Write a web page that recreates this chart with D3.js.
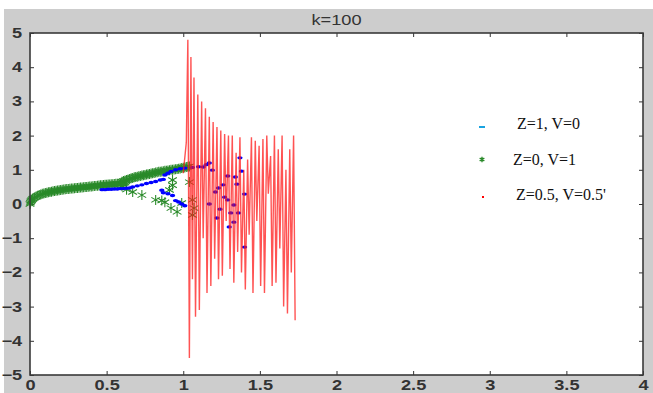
<!DOCTYPE html>
<html>
<head>
<meta charset="utf-8">
<script src="https://cdn.jsdelivr.net/npm/d3@7"></script>
<style>
	body { margin: 0; background: #fff; }
</style>
</head>
<body>
<div id="chart"></div>
<script>
const title = "k=100";
const xTicks = [0, 0.5, 1, 1.5, 2, 2.5, 3, 3.5, 4];
const yTicks = [-5, -4, -3, -2, -1, 0, 1, 2, 3, 4, 5];
const seriesNames = ["Z=1, V=0", "Z=0, V=1", "Z=0.5, V=0.5'"];

// Z=0, V=1 : green stars, lower branch
const greenCurve = [
	[0, 0], [0.003, 0.04], [0.006, 0.08], [0.01, 0.11], [0.015, 0.14], [0.02, 0.16], [0.03, 0.19],
	[0.04, 0.22], [0.05, 0.24], [0.06, 0.26], [0.07, 0.28], [0.08, 0.3], [0.09, 0.31], [0.1, 0.32],
	[0.11, 0.33], [0.12, 0.34], [0.13, 0.35], [0.14, 0.36], [0.15, 0.37], [0.16, 0.38], [0.17, 0.39],
	[0.18, 0.395], [0.19, 0.4], [0.2, 0.41], [0.21, 0.42], [0.22, 0.425], [0.23, 0.43], [0.24, 0.435],
	[0.25, 0.44], [0.26, 0.445], [0.27, 0.45], [0.28, 0.455], [0.29, 0.46], [0.3, 0.465], [0.31, 0.47],
	[0.32, 0.475], [0.33, 0.48], [0.34, 0.485], [0.35, 0.49], [0.36, 0.495], [0.37, 0.5], [0.38, 0.505],
	[0.39, 0.51], [0.4, 0.515], [0.41, 0.52], [0.42, 0.525], [0.43, 0.53], [0.44, 0.535], [0.45, 0.54],
	[0.46, 0.545], [0.47, 0.55], [0.48, 0.555], [0.49, 0.56], [0.5, 0.565], [0.51, 0.57], [0.52, 0.57],
	[0.53, 0.575], [0.54, 0.58], [0.55, 0.585], [0.56, 0.59], [0.57, 0.59], [0.58, 0.595], [0.59, 0.6],
	[0.6, 0.6], [0.61, 0.61], [0.62, 0.62]
];
// Z=0, V=1 : green stars, upper branch
const greenUpper = [
	[0.6, 0.65], [0.61, 0.67], [0.62, 0.69], [0.63, 0.7], [0.64, 0.72], [0.65, 0.73], [0.66, 0.75],
	[0.67, 0.76], [0.68, 0.78], [0.69, 0.79], [0.7, 0.8], [0.71, 0.81], [0.72, 0.82], [0.73, 0.83],
	[0.74, 0.84], [0.75, 0.85], [0.76, 0.86], [0.77, 0.87], [0.78, 0.88], [0.79, 0.89], [0.8, 0.9],
	[0.81, 0.91], [0.82, 0.92], [0.83, 0.93], [0.84, 0.94], [0.85, 0.945], [0.86, 0.95], [0.87, 0.96],
	[0.88, 0.97], [0.89, 0.975], [0.9, 0.98], [0.91, 0.99], [0.92, 1.0], [0.93, 1.005], [0.94, 1.01],
	[0.95, 1.015], [0.96, 1.02], [0.97, 1.03], [0.98, 1.04], [0.99, 1.05], [1.0, 1.06], [1.01, 1.07],
	[1.02, 1.08], [1.03, 1.09], [1.04, 1.1]
];
// Z=0, V=1 : green stars, scattered
const greenScatter = [
	[0.6, 0.52], [0.63, 0.42], [0.67, 0.35], [0.73, 0.26], [0.82, 0.12], [0.86, 0.1], [0.88, 0.05],
	[0.91, 0.41], [0.93, 0.7], [0.93, 0.55], [0.92, -0.12], [0.96, -0.23], [0.99, 0.03], [1.04, 0.64],
	[1.06, 0.12], [1.06, -0.32], [1.07, -0.12]
];
// Z=1, V=0 : blue dots
const blueDots = [
	[0.47, 0.42], [0.49, 0.42], [0.51, 0.43], [0.53, 0.43], [0.55, 0.44], [0.57, 0.44], [0.59, 0.45],
	[0.61, 0.45], [0.63, 0.46], [0.65, 0.47], [0.67, 0.5], [0.7, 0.53], [0.73, 0.56], [0.76, 0.6],
	[0.79, 0.63], [0.82, 0.66], [0.85, 0.7], [0.87, 0.72], [0.88, 0.85], [0.9, 0.9], [0.92, 0.95],
	[0.95, 1.0], [0.98, 1.03], [1.01, 1.05], [1.06, 1.07], [1.1, 1.09], [1.13, 1.08], [1.15, 1.15],
	[1.17, 1.2], [0.86, 0.4], [0.87, 0.33], [0.9, 0.3], [0.93, 0.25], [0.95, 0.1], [0.97, 0.06],
	[0.99, 0.0], [1.01, -0.05], [1.19, 0.99], [1.21, 0.35], [1.17, 0.0], [1.23, 0.47], [1.26, 0.56],
	[1.24, -0.15], [1.27, 0.2], [1.29, 0.12], [1.29, 0.82], [1.33, -0.03], [1.22, -0.41], [1.31, -0.26],
	[1.3, -0.67], [1.33, -0.53], [1.34, 0.79], [1.35, 0.58], [1.36, -0.26], [1.37, 1.35], [1.38, 0.96],
	[1.4, 0.29], [1.4, -1.26]
];
// Z=0.5, V=0.5 : red line
const redLine = [
	[1.0, 0.9], [1.02, 1.8], [1.03, 4.8], [1.04, -4.5], [1.05, 4.3], [1.06, -2.2], [1.07, 3.7],
	[1.08, -3.3], [1.095, 3.2], [1.105, -3.1], [1.12, 3.0], [1.13, -1.0], [1.145, 2.8], [1.155, -2.6],
	[1.17, 2.55], [1.18, -2.4], [1.195, 2.4], [1.205, -1.6], [1.22, 2.25], [1.23, -2.2], [1.245, 2.15],
	[1.255, -2.1], [1.27, 2.05], [1.28, -0.5], [1.295, 2.0], [1.305, -1.9], [1.32, 2.0], [1.33, -2.3],
	[1.345, 1.5], [1.355, -1.4], [1.37, 1.95], [1.38, -2.0], [1.395, 1.0], [1.405, -2.5], [1.42, 1.3],
	[1.43, -0.9], [1.445, 1.95], [1.455, -2.6], [1.47, 1.85], [1.48, -0.5], [1.495, 1.7], [1.505, -2.4],
	[1.52, 1.9], [1.53, -2.6], [1.545, 2.0], [1.555, 0.3], [1.57, 1.4], [1.58, -2.4], [1.595, 2.0],
	[1.605, -2.3], [1.62, 1.6], [1.63, -1.3], [1.645, 2.0], [1.655, -3.0], [1.67, 1.0], [1.68, -3.2],
	[1.695, 1.6], [1.705, -2.0], [1.72, 2.0], [1.73, -3.4]
];

const W = 653;
const H = 393;
const margin = { top: 33, right: 10, bottom: 18, left: 30 };
const width = W - margin.left - margin.right;
const height = H - margin.top - margin.bottom;
const textStretch = "scale(1.3,1)";

const svg = d3.select("#chart").append("svg").attr("width", W).attr("height", H);

// figure background
svg.append("rect").attr("x", 4).attr("y", 9).attr("width", W - 4).attr("height", H - 9).attr("fill", "#cdcdcd");

const g = svg.append("g").attr("transform", `translate(${margin.left},${margin.top})`);

g.append("rect").attr("width", width).attr("height", height).attr("fill", "#fff");

const x = d3.scaleLinear().domain([0, 4]).range([0, width]);
const y = d3.scaleLinear().domain([-5, 5]).range([height, 0]);

const axisStyle = (sel) => {
	sel.select(".domain").remove();
	sel.selectAll(".tick line").attr("stroke", "#333");
	sel.selectAll(".tick text")
		.attr("fill", "#333")
		.style("font-family", "Liberation Sans, Arial, sans-serif")
		.style("font-size", "14px")
		.style("font-weight", "bold");
};

g.append("g")
	.attr("transform", `translate(0,${height})`)
	.call(d3.axisBottom(x).tickValues(xTicks).tickFormat(d3.format("")).tickSizeInner(-4).tickSizeOuter(0).tickPadding(5))
	.call(axisStyle)
	.selectAll(".tick text").attr("transform", textStretch);

g.append("g")
	.call(d3.axisLeft(y).tickValues(yTicks).tickFormat(d3.format("")).tickSizeInner(-4).tickSizeOuter(0).tickPadding(6))
	.call(axisStyle)
	.selectAll(".tick text").attr("transform", textStretch);

g.append("g")
	.call(d3.axisTop(x).tickValues(xTicks).tickFormat("").tickSizeInner(-4).tickSizeOuter(0))
	.call(axisStyle);

g.append("g")
	.attr("transform", `translate(${width},0)`)
	.call(d3.axisRight(y).tickValues(yTicks).tickFormat("").tickSizeInner(-4).tickSizeOuter(0))
	.call(axisStyle);

// series
const star = d3.symbol(d3.symbolAsterisk, 70);

g.append("g")
	.selectAll("path")
	.data(greenCurve.concat(greenUpper, greenScatter))
	.join("path")
	.attr("transform", (d) => `translate(${x(d[0])},${y(d[1])})`)
	.attr("d", star)
	.attr("fill", "none")
	.attr("stroke", "#2a8a2a")
	.attr("stroke-width", 1.1);

g.append("g")
	.selectAll("ellipse")
	.data(blueDots)
	.join("ellipse")
	.attr("cx", (d) => x(d[0]))
	.attr("cy", (d) => y(d[1]))
	.attr("rx", 2.7)
	.attr("ry", 1.7)
	.attr("fill", "#0000ff");

const line = d3.line().x((d) => x(d[0])).y((d) => y(d[1]));

g.append("path")
	.datum(redLine)
	.attr("d", line)
	.attr("fill", "none")
	.attr("stroke", "#ff1a1a")
	.attr("stroke-width", 1.4)
	.attr("stroke-opacity", 0.75);

// border
g.append("rect")
	.attr("width", width)
	.attr("height", height)
	.attr("fill", "none")
	.attr("stroke", "#3a3a3a")
	.attr("stroke-width", 1.6);

// title
svg.append("text")
	.attr("transform", `translate(${margin.left + width / 2},25) ${textStretch}`)
	.attr("text-anchor", "middle")
	.attr("fill", "#333")
	.style("font-family", "Liberation Sans, Arial, sans-serif")
	.style("font-size", "14px")
	.text(title);

// legend
const legend = svg.append("g").attr("transform", "translate(482,124)");

const rows = legend.selectAll("g")
	.data(seriesNames)
	.join("g")
	.attr("transform", (d, i) => `translate(0,${i * 35.5})`);

rows.filter((d, i) => i === 0).append("rect")
	.attr("x", -3).attr("y", 2).attr("width", 6).attr("height", 2).attr("fill", "#19a3e0");
rows.filter((d, i) => i === 1).append("path")
	.attr("d", d3.symbol(d3.symbolAsterisk, 20))
	.attr("fill", "none").attr("stroke", "#2a8a2a").attr("stroke-width", 1.4);
rows.filter((d, i) => i === 2).append("rect")
	.attr("x", 0).attr("y", 1).attr("width", 2).attr("height", 2).attr("fill", "#ff0000");

rows.append("text")
	.attr("x", (d, i) => [35, 31, 34][i])
	.attr("y", 5)
	.attr("fill", "#111")
	.style("font-family", "Liberation Serif, Times New Roman, serif")
	.style("font-size", "16px")
	.text((d) => d);
</script>
</body>
</html>
